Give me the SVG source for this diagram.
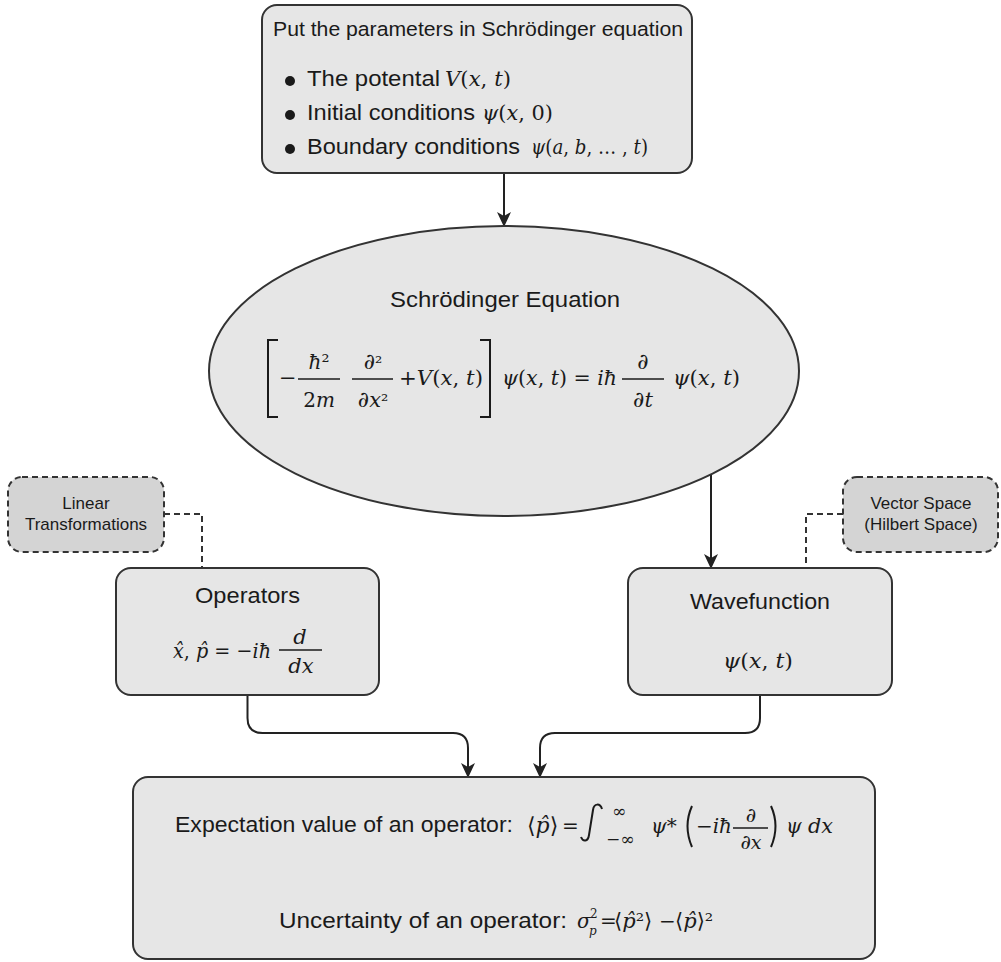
<svg xmlns="http://www.w3.org/2000/svg" width="1001" height="962" viewBox="0 0 1001 962">
<style>
.box{fill:#e6e6e6;stroke:#333;stroke-width:2}
.dbox{fill:#d4d4d4;stroke:#333;stroke-width:2;stroke-dasharray:6 4}
.t{font-family:"Liberation Sans",Arial,sans-serif;fill:#1a1a1a}
.m{font-family:"DejaVu Serif","Liberation Serif",serif;font-style:italic;fill:#1a1a1a}
.u{font-style:normal}
.conn{fill:none;stroke:#222;stroke-width:2}
.dash{fill:none;stroke:#333;stroke-width:2;stroke-dasharray:6 4}
.bar{stroke:#1a1a1a;stroke-width:1.5}
.brk{fill:none;stroke:#1a1a1a;stroke-width:2}
</style>
<defs>
<marker id="ah" markerWidth="15" markerHeight="14" refX="14" refY="7" orient="auto" markerUnits="userSpaceOnUse">
<path d="M0,0 L15,7 L0,14 L4,7 z" fill="#222"/>
</marker>
</defs>

<g id="connectors">
<line class="conn" x1="504" y1="173" x2="504" y2="226" marker-end="url(#ah)"/>
<line class="conn" x1="711" y1="474" x2="711" y2="568" marker-end="url(#ah)"/>
<path class="dash" d="M164,514 H202 V568"/>
<path class="dash" d="M843,514 H806 V568"/>
<path class="conn" d="M247.5,695 V718 Q247.5,733 262.5,733 H453 Q468,733 468,748 V777" marker-end="url(#ah)"/>
<path class="conn" d="M760,695 V718 Q760,733 745,733 H555 Q540,733 540,748 V777" marker-end="url(#ah)"/>
</g>

<g id="params">
<rect class="box" x="262" y="5" width="430" height="168" rx="15"/>
<text class="t" x="273" y="36" font-size="20.5" textLength="410" lengthAdjust="spacingAndGlyphs">Put the parameters in Schrödinger equation</text>
<circle cx="290" cy="81" r="5" fill="#1a1a1a"/>
<circle cx="290" cy="115" r="5" fill="#1a1a1a"/>
<circle cx="290" cy="149" r="5" fill="#1a1a1a"/>
<text class="t" x="307" y="86" font-size="22" textLength="133" lengthAdjust="spacingAndGlyphs">The potental</text>
<text class="m" x="445" y="86" font-size="20" textLength="66" lengthAdjust="spacingAndGlyphs">V<tspan class="u">(</tspan>x<tspan class="u">, </tspan>t<tspan class="u">)</tspan></text>
<text class="t" x="307" y="120" font-size="22" textLength="168" lengthAdjust="spacingAndGlyphs">Initial conditions</text>
<text class="m" x="482" y="120" font-size="20" textLength="71" lengthAdjust="spacingAndGlyphs">ψ<tspan class="u">(</tspan>x<tspan class="u">, 0)</tspan></text>
<text class="t" x="307" y="154" font-size="22" textLength="213" lengthAdjust="spacingAndGlyphs">Boundary conditions</text>
<text class="m" x="531" y="154" font-size="20" textLength="117" lengthAdjust="spacingAndGlyphs">ψ<tspan class="u">(</tspan>a<tspan class="u">, </tspan>b<tspan class="u">, … , </tspan>t<tspan class="u">)</tspan></text>
</g>

<g id="schrodinger">
<ellipse class="box" cx="504" cy="371" rx="295" ry="145"/>
<text class="t" x="390" y="307" font-size="22" textLength="230" lengthAdjust="spacingAndGlyphs">Schrödinger Equation</text>
<path class="brk" d="M278,340 H268 V417 H278"/>
<text class="m" x="279" y="385" font-size="21"><tspan class="u">−</tspan></text>
<text class="m" x="319" y="369" font-size="20" text-anchor="middle">ħ<tspan class="u">²</tspan></text>
<line class="bar" x1="298" y1="379" x2="340" y2="379"/>
<text class="m" x="319" y="407" font-size="20" text-anchor="middle"><tspan class="u">2</tspan>m</text>
<text class="m" x="373" y="369" font-size="22" text-anchor="middle">∂<tspan class="u" font-size="18">²</tspan></text>
<line class="bar" x1="352" y1="379" x2="393" y2="379"/>
<text class="m" x="373" y="407" font-size="21" text-anchor="middle"><tspan font-size="22">∂</tspan>x<tspan class="u" font-size="18">²</tspan></text>
<text class="m" x="399" y="385" font-size="20" textLength="84" lengthAdjust="spacingAndGlyphs"><tspan class="u">+</tspan>V<tspan class="u">(</tspan>x<tspan class="u">, </tspan>t<tspan class="u">)</tspan></text>
<path class="brk" d="M480,340 H490 V417 H480"/>
<text class="m" x="502" y="385" font-size="20" textLength="115" lengthAdjust="spacingAndGlyphs">ψ<tspan class="u">(</tspan>x<tspan class="u">, </tspan>t<tspan class="u">) = </tspan>iħ</text>
<text class="m" x="643" y="369" font-size="22" text-anchor="middle">∂</text>
<line class="bar" x1="622" y1="379" x2="664" y2="379"/>
<text class="m" x="643" y="407" font-size="21" text-anchor="middle"><tspan font-size="22">∂</tspan>t</text>
<text class="m" x="673" y="385" font-size="20" textLength="67" lengthAdjust="spacingAndGlyphs">ψ<tspan class="u">(</tspan>x<tspan class="u">, </tspan>t<tspan class="u">)</tspan></text>
</g>

<g id="linear">
<rect class="dbox" x="8" y="477" width="156" height="75" rx="14"/>
<text class="t" x="86" y="509" font-size="17" text-anchor="middle">Linear</text>
<text class="t" x="86" y="530" font-size="17" text-anchor="middle">Transformations</text>
</g>

<g id="vector">
<rect class="dbox" x="843" y="477" width="155" height="75" rx="14"/>
<text class="t" x="921" y="509" font-size="17" text-anchor="middle">Vector Space</text>
<text class="t" x="921" y="530" font-size="17" text-anchor="middle">(Hilbert Space)</text>
</g>

<g id="operators">
<rect class="box" x="116" y="568" width="263" height="127" rx="15"/>
<text class="t" x="195" y="603" font-size="22" textLength="105" lengthAdjust="spacingAndGlyphs">Operators</text>
<text class="m" x="173" y="658" font-size="21" textLength="98" lengthAdjust="spacingAndGlyphs">x̂<tspan class="u">, </tspan>p̂<tspan class="u"> = −</tspan>iħ</text>
<text class="m" x="300" y="644" font-size="21" text-anchor="middle">d</text>
<line class="bar" x1="279" y1="650" x2="322" y2="650"/>
<text class="m" x="301" y="673" font-size="21" text-anchor="middle">dx</text>
</g>

<g id="wavefunction">
<rect class="box" x="628" y="568" width="264" height="127" rx="15"/>
<text class="t" x="690" y="609" font-size="22" textLength="140" lengthAdjust="spacingAndGlyphs">Wavefunction</text>
<text class="m" x="723" y="668" font-size="21" textLength="70" lengthAdjust="spacingAndGlyphs">ψ<tspan class="u">(</tspan>x<tspan class="u">, </tspan>t<tspan class="u">)</tspan></text>
</g>

<g id="expectation">
<rect class="box" x="133" y="777" width="742" height="182" rx="15"/>
<text class="t" x="175" y="832" font-size="22" textLength="338" lengthAdjust="spacingAndGlyphs">Expectation value of an operator:</text>
<text class="m" x="527" y="833" font-size="22"><tspan class="u">⟨</tspan>p̂<tspan class="u">⟩</tspan></text>
<text class="m" x="562" y="833" font-size="20"><tspan class="u">=</tspan></text>
<path fill="none" stroke="#1a1a1a" stroke-width="2" d="M602,809 C600,803 594,803 593,810 L589,835 C588,842 583,842 581,837"/>
<text class="m" x="612" y="817" font-size="17"><tspan class="u">∞</tspan></text>
<text class="m" x="606" y="845" font-size="17"><tspan class="u">−∞</tspan></text>
<text class="m" x="651" y="833" font-size="20">ψ<tspan class="u">*</tspan></text>
<path class="brk" stroke-width="1.6" d="M692,806 Q683,826 692,847"/>
<text class="m" x="696" y="833" font-size="20" textLength="36" lengthAdjust="spacingAndGlyphs"><tspan class="u">−</tspan>iħ</text>
<text class="m" x="751" y="822" font-size="20" text-anchor="middle">∂</text>
<line class="bar" x1="733" y1="828" x2="768" y2="828"/>
<text class="m" x="751" y="849" font-size="19" text-anchor="middle"><tspan font-size="20">∂</tspan>x</text>
<path class="brk" stroke-width="1.6" d="M771,806 Q780,826 771,847"/>
<text class="m" x="786" y="833" font-size="20">ψ</text>
<text class="m" x="808" y="833" font-size="20" textLength="25" lengthAdjust="spacingAndGlyphs">dx</text>
<text class="t" x="279" y="928" font-size="22" textLength="288" lengthAdjust="spacingAndGlyphs">Uncertainty of an operator:</text>
<text class="m" x="577" y="928" font-size="20">σ</text>
<text class="m" x="589" y="935" font-size="12">p</text>
<text class="m" x="590" y="918" font-size="12"><tspan class="u">2</tspan></text>
<text class="m" x="600" y="928" font-size="20"><tspan class="u">=</tspan></text>
<text class="m" x="614" y="928" font-size="21"><tspan class="u">⟨</tspan>p̂<tspan class="u">²⟩</tspan></text>
<text class="m" x="659" y="928" font-size="20"><tspan class="u">−</tspan></text>
<text class="m" x="675" y="928" font-size="21"><tspan class="u">⟨</tspan>p̂<tspan class="u">⟩²</tspan></text>
</g>
</svg>
